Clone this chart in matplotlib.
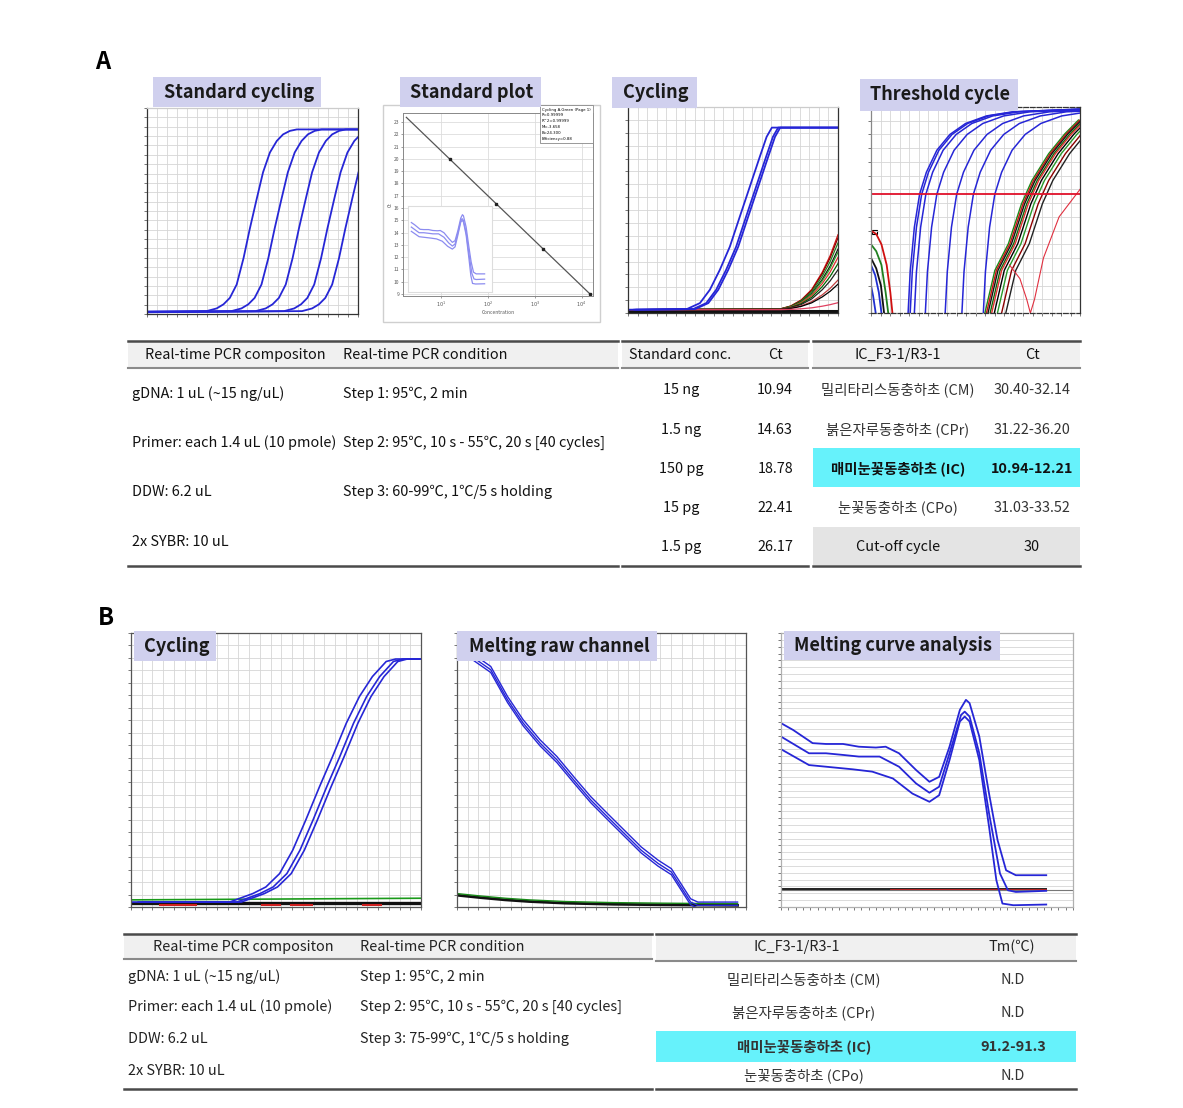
import numpy as np
import matplotlib.pyplot as plt
from matplotlib.patches import Rectangle

plt.rcParams['font.family'] = ['Noto Sans CJK KR', 'DejaVu Sans']

W, H = 1183, 1108

# ---------------- values ----------------
# standard cycling: shape of one curve (cycle offset from its midpoint, normalised fluorescence)
amp_dx = [-40, -9.0, -7.1, -5.8, -4.6, -3.3, -2.0, -0.8, 0.5, 1.7, 3.0, 4.3, 5.5, 6.8, 8.1, 40]
amp_lvl = [0.8, 1.4, 2.7, 4.7, 7.8, 14.3, 27.1, 41.5, 55.9, 68.8, 78.4, 84.0, 87.2, 88.9, 89.6, 89.6]
std_mid = [20.3, 25.0, 29.6, 35.0, 38.4]      # 5 dilutions

# cycling (A), IC samples
cycA_x = [0, 11.2, 13.7, 15.6, 17.5, 19.4, 21.3, 23.2, 25.1, 26.4, 27.4, 40]
cycA_y = [1.6, 1.9, 4.8, 11.3, 21.0, 32.2, 46.8, 61.3, 75.8, 85.5, 90.0, 90.0]
cycA_shift = [0.0, 1.2, 1.6]

# late (non-target) curves in the A cycling panel
late_cycles = [0, 29.0, 31.0, 33.0, 35.0, 37.0, 38.5, 40.0]
late_frac = [0.0, 0.01, 0.05, 0.13, 0.27, 0.50, 0.72, 1.0]
late_end = [38.0, 36.5, 34.0, 31.0, 29.5, 27.0, 24.0, 21.0, 16.0, 14.0, 5.0]
late_colors = ['#d01010', '#8b0000', '#208020', '#111111', '#30a030', '#e03030',
               '#006400', '#222222', '#c04040', '#000000', '#e04060']

# standard plot (Ct vs concentration)
std_conc = [15, 150, 1500, 15000]
std_ct_pts = [20.0, 16.3, 12.7, 9.0]
fit_M, fit_B = -3.658, 24.3
fit_legend = ['Cycling A.Green (Page 1)', 'R=0.99999', 'R^2=0.99999',
              'M=-3.658', 'B=24.300', 'Efficiency=0.88']

# threshold cycle panel (log10 fluorescence)
thr_dx = [0.0, 0.4, 1.2, 2.2, 3.5, 5.5, 8.0, 11.0, 15.0, 20.0, 33.0]
thr_ly = [-3.0, -2.4, -1.75, -1.27, -0.95, -0.63, -0.40, -0.24, -0.13, -0.07, -0.03]
thr_blue_start = [7.1, 7.5, 8.3, 10.4, 14.2, 17.4, 21.5]
thr_col_dx = [0.0, 1.9, 4.5, 7.0, 9.0, 12.2, 15.3, 17.9]
thr_col_ly = [-3.0, -2.38, -1.99, -1.41, -1.07, -0.68, -0.39, -0.19]
thr_col_start = [21.8, 22.1, 22.4, 22.8, 23.1, 23.6, 24.2, 25.0, 25.8]
thr_col_colors = ['#1a8a1a', '#d01010', '#111111', '#0b6b0b', '#e03030',
                  '#000000', '#2a9a2a', '#8b0000', '#222222']
thr_v_x = [26.5, 28.5, 29.8, 30.5, 31.3, 33.0, 36.0, 40.0]
thr_v_ly = [-2.3, -2.5, -2.8, -3.0, -2.8, -2.2, -1.6, -1.2]
thr_noise = [('#d01010', [0, 1, 2, 3, 3.7, 4.1], [-1.8, -1.85, -2.0, -2.3, -2.7, -3.0]),
             ('#208020', [0, 1, 2, 2.8, 3.3], [-2.0, -2.1, -2.3, -2.7, -3.0]),
             ('#111111', [0, 1, 1.9, 2.5], [-2.2, -2.35, -2.6, -3.0]),
             ('#2030d0', [0, 0.8, 1.5, 2.0], [-2.3, -2.45, -2.7, -3.0]),
             ('#2030d0', [0, 0.4, 0.9], [-2.6, -2.75, -3.0])]
thr_level = -1.27

# B cycling
bcyc_x = [0, 13.6, 16.8, 18.6, 20.5, 22.3, 24.1, 26.0, 27.8, 29.7, 31.5, 33.3, 35.2, 36.5, 40]
bcyc_y = [1.8, 1.8, 4.9, 7.3, 12.2, 20.7, 31.7, 43.9, 54.9, 67.1, 76.8, 84.1, 89.6, 90.5, 90.5]
bcyc_shift = [0.0, 1.0, 1.6]

# B melting raw channel
raw_T = [75.0, 76.4, 77.8, 79.2, 80.5, 81.9, 83.3, 84.7, 86.1, 87.5, 88.9, 90.3,
         91.7, 92.8, 93.6, 94.4, 95.0, 98.3]
raw_F = [97.0, 90.9, 86.6, 75.6, 67.1, 59.8, 53.7, 46.3, 39.1, 32.9, 26.8, 20.7,
         15.9, 12.8, 7.3, 1.8, 0.6, 0.6]
raw_shift = [0.0, 1.2, -1.0]
raw_bg_T = [75, 77, 79, 81, 84, 88, 92, 98.3]
raw_bg_F = [4.3, 3.4, 2.6, 2.0, 1.4, 1.0, 0.8, 0.6]

# B melting curve (dF/dT)
melt1_T = [76.0, 77.0, 78.6, 79.7, 81.1, 82.4, 83.8, 84.6, 85.7, 87.1, 88.2, 89.0,
           89.85, 90.7, 91.2, 91.5, 92.3, 93.1, 93.8, 94.5, 95.3, 97.8]
melt1_F = [67.1, 64.6, 59.8, 59.5, 59.5, 58.5, 58.2, 58.5, 56.1, 50.0, 45.7, 47.5,
           58.5, 71.9, 75.6, 74.4, 62.2, 41.4, 24.4, 13.4, 11.6, 11.6]
melt2_T = [76.0, 78.3, 79.7, 81.1, 82.4, 84.1, 85.7, 87.1, 88.2, 89.0, 89.85, 90.8,
           91.1, 91.5, 92.3, 93.1, 94.0, 94.65, 95.3, 97.8]
melt2_F = [62.2, 56.1, 56.1, 55.5, 54.9, 54.9, 51.2, 45.1, 41.7, 43.9, 56.1, 70.1,
           71.3, 69.5, 56.1, 34.2, 12.2, 6.1, 5.5, 5.9]
melt3_T = [76.0, 78.3, 79.7, 81.9, 83.5, 85.2, 86.8, 88.2, 89.0, 89.85, 90.7, 91.1,
           91.5, 92.3, 93.1, 93.7, 94.2, 95.1, 97.8]
melt3_F = [57.6, 51.8, 51.2, 50.25, 49.4, 46.9, 41.4, 38.4, 40.8, 53.6, 67.7, 69.5,
           67.7, 53.6, 29.3, 9.8, 1.26, 0.65, 0.9]
melt_neg_level = 6.6

# tables
compA = ['gDNA: 1 uL (~15 ng/uL)', 'Primer: each 1.4 uL (10 pmole)', 'DDW: 6.2 uL', '2x SYBR: 10 uL']
condA = ['Step 1: 95\u2103, 2 min', 'Step 2: 95\u2103, 10 s - 55\u2103, 20 s [40 cycles]',
         'Step 3: 60-99\u2103, 1\u2103/5 s holding']
condB = ['Step 1: 95\u2103, 2 min', 'Step 2: 95\u2103, 10 s - 55\u2103, 20 s [40 cycles]',
         'Step 3: 75-99\u2103, 1\u2103/5 s holding']
std_labels = ['15 ng', '1.5 ng', '150 pg', '15 pg', '1.5 pg']
std_ct = ['10.94', '14.63', '18.78', '22.41', '26.17']
species = ['밀리타리스동충하초 (CM)', '붉은자루동충하초 (CPr)', '매미눈꽃동충하초 (IC)', '눈꽃동충하초 (CPo)']
species_ct = ['30.40-32.14', '31.22-36.20', '10.94-12.21', '31.03-33.52']
cutoff = '30'
species_tm = ['N.D', 'N.D', '91.2-91.3', 'N.D']

BLUE = '#2626d6'
TITLE_BG = '#d0d0ee'
CYAN = '#66f2fb'

fig = plt.figure(figsize=(W / 100, H / 100), dpi=100)


def px_axes(x0, y0, x1, y1):
    return fig.add_axes([x0 / W, 1 - y1 / H, (x1 - x0) / W, (y1 - y0) / H])


def frame(ax, xlim, ylim, nx, ny, edge='#333333', grid='both'):
    ax.set_xlim(*xlim)
    ax.set_ylim(*ylim)
    ax.set_xticks(np.linspace(xlim[0], xlim[1], nx + 1))
    ax.set_yticks(np.linspace(ylim[0], ylim[1], ny + 1))
    ax.grid(True, axis=grid, color='#d6d6d6', lw=0.6)
    ax.tick_params(length=2, width=0.5, colors='#444444', labelbottom=False, labelleft=False)
    for s in ax.spines.values():
        s.set_color(edge)
        s.set_linewidth(0.9)


base = px_axes(0, 0, W, H)
base.set_xlim(0, W)
base.set_ylim(H, 0)
base.axis('off')

# ---------------- A: standard cycling ----------------
ax = px_axes(147, 108, 358, 314)
frame(ax, (0, 40), (0, 100), 21, 22)
ax.spines['top'].set_color('#cccccc')
for m in std_mid:
    ax.plot(np.array(amp_dx) + m, amp_lvl, color=BLUE, lw=1.3)

# ---------------- A: standard plot ----------------
base.add_patch(Rectangle((383, 105), 217, 217, fc='white', ec='#cfcfcf', lw=1))
ax = px_axes(403, 113, 593, 296)
ax.set_xscale('log')
ax.set_xlim(10 ** 0.178, 10 ** 4.246)
ax.set_ylim(8.84, 23.74)
ax.set_yticks(range(9, 24))
ax.set_xticks([10, 100, 1000, 10000])
ax.set_xticklabels(['$10^1$', '$10^2$', '$10^3$', '$10^4$'])
ax.minorticks_off()
ax.grid(True, color='#dddddd', lw=0.6)
ax.tick_params(labelsize=3.5, length=1.5, width=0.4, colors='#555555', pad=1)
for s in ax.spines.values():
    s.set_color('#888888')
    s.set_linewidth(0.7)
ax.set_xlabel('Concentration', fontsize=3.5, labelpad=1, color='#555555')
ax.set_ylabel('Ct', fontsize=3.5, labelpad=1, color='#555555')
xf = np.array([10 ** 0.25, max(std_conc)])
ax.plot(xf, fit_B + fit_M * np.log10(xf), color='#555555', lw=0.9)
ax.plot(std_conc, std_ct_pts, 's', color='#222222', ms=2)
ax.text(0.73, 1.03, '\n'.join(fit_legend), transform=ax.transAxes, fontsize=2.8, va='top',
        linespacing=1.6, family='DejaVu Sans',
        bbox=dict(fc='white', ec='#888888', lw=0.6, pad=1.5))
ins = px_axes(408, 206, 492, 292)
ins.set_xlim(75, 100)
ins.set_ylim(-8, 85)
ins.set_xticks([])
ins.set_yticks([])
for s in ins.spines.values():
    s.set_color('#dddddd')
for t, f in [(melt1_T, melt1_F), (melt2_T, melt2_F), (melt3_T, melt3_F)]:
    ins.plot(t, f, color='#8c8cf0', lw=0.9)

# ---------------- A: cycling ----------------
ax = px_axes(628, 107, 838, 313)
frame(ax, (0, 40), (0, 100), 22, 16)
ax.spines['top'].set_color('#cccccc')
ax.plot([0, 40], [1.2, 1.2], color='#111111', lw=2.2)
for e, c in zip(late_end, late_colors):
    ax.plot(late_cycles, 1.6 + np.array(late_frac) * (e - 1.6), color=c, lw=0.9)
for sh in cycA_shift:
    ax.plot(np.array(cycA_x) + sh, cycA_y, color=BLUE, lw=1.3)

# ---------------- A: threshold cycle ----------------
ax = px_axes(871, 107, 1080, 313)
frame(ax, (0, 40), (-3, 0), 22, 15)
ax.spines['top'].set_linestyle('--')
ax.spines['bottom'].set_linestyle('--')
ax.spines['left'].set_color('#888888')
for col, xs, ys in thr_noise:
    ax.plot(xs, ys, color=col, lw=1.3)
for s0 in thr_blue_start:
    ax.plot(np.array(thr_dx) + s0, thr_ly, color=BLUE, lw=1.1)
for s0, c in zip(thr_col_start, thr_col_colors):
    ax.plot(np.array(thr_col_dx) + s0, thr_col_ly, color=c, lw=1.0)
ax.plot(thr_v_x, thr_v_ly, color='#e03040', lw=0.8)
ax.axhline(thr_level, color='#e0102a', lw=1.3)
ax.add_patch(Rectangle((0.003, 0.385), 0.028, 0.018, transform=ax.transAxes,
                       fc='white', ec='black', lw=0.8, clip_on=False))

# ---------------- B: cycling ----------------
ax = px_axes(131, 633, 421, 907)
frame(ax, (0, 40), (0, 100), 27, 22, edge='#555555')
ax.plot([0, 40], [2.6, 3.2], color='#1a9a1a', lw=1.2)
ax.plot([0, 40], [1.6, 1.6], color='#111111', lw=2.4)
for a, b in [(4, 9), (18, 20.5), (22, 25), (32, 34.5)]:
    ax.plot([a, b], [0.6, 0.6], color='#d02020', lw=1.5)
for sh in bcyc_shift:
    ax.plot(np.array(bcyc_x) + sh, bcyc_y, color=BLUE, lw=1.2)

# ---------------- B: melting raw channel ----------------
ax = px_axes(457, 633, 746, 907)
frame(ax, (75, 99), (0, 100), 27, 22, edge='#555555')
ax.plot(raw_bg_T, raw_bg_F, color='#111111', lw=2.0)
ax.plot(raw_bg_T, np.array(raw_bg_F) + 0.6, color='#1a8a1a', lw=1.0)
for sh in raw_shift:
    ax.plot(raw_T, np.array(raw_F) + sh, color=BLUE, lw=1.0)

# ---------------- B: melting curve analysis ----------------
ax = px_axes(781, 633, 1073, 907)
frame(ax, (76, 100), (0, 100), 40, 40, edge='#b0b0b0', grid='y')
ax.axhline(6.2, color='#777777', lw=0.8)
ax.plot([76, 97.8], [melt_neg_level, melt_neg_level], color='#222222', lw=1.4)
ax.plot([85, 97.8], [melt_neg_level - 0.2, melt_neg_level - 0.2], color='#d02020', lw=0.6)
for t, f in [(melt1_T, melt1_F), (melt2_T, melt2_F), (melt3_T, melt3_F)]:
    ax.plot(t, f, color=BLUE, lw=1.3)

# ---------------- tables ----------------
FA = 10.4
FB = 10.4
TXT = dict(fontsize=FA, va='center', color='#111111')


def table_block(x0, x1, y_top, y_head, y_bot):
    base.add_patch(Rectangle((x0, y_top), x1 - x0, y_head - y_top, fc='#f0f0f0', ec='none'))
    base.plot([x0, x1], [y_top, y_top], color='#4a4a4a', lw=1.8)
    base.plot([x0, x1], [y_head, y_head], color='#8a8a8a', lw=1.5)
    base.plot([x0, x1], [y_bot, y_bot], color='#4a4a4a', lw=1.8)


# A tables
base.add_patch(Rectangle((813, 448), 267, 39, fc=CYAN, ec='none'))
base.add_patch(Rectangle((813, 527), 267, 38, fc='#e4e4e4', ec='none'))
for x0, x1 in [(128, 618), (622, 808), (813, 1080)]:
    table_block(x0, x1, 341, 368, 566)
base.text(145, 355, 'Real-time PCR compositon', **TXT)
base.text(343, 355, 'Real-time PCR condition', **TXT)
for y, s in zip([394, 443, 492, 542], compA):
    base.text(132, y, s, **TXT)
for y, s in zip([394, 443, 492], condA):
    base.text(343, y, s, **TXT)
base.text(680, 355, 'Standard conc.', ha='center', **TXT)
base.text(775, 355, 'Ct', ha='center', **TXT)
rowsA = [390, 430, 469, 508, 547]
for y, a, b in zip(rowsA, std_labels, std_ct):
    base.text(681, y, a, ha='center', **TXT)
    base.text(793, y, b, ha='right', **TXT)
base.text(898, 355, 'IC_F3-1/R3-1', ha='center', **TXT)
base.text(1032, 355, 'Ct', ha='center', **TXT)
for i, (y, a, b) in enumerate(zip(rowsA[:4], species, species_ct)):
    w = 'bold' if i == 2 else 'normal'
    col = '#111111' if i == 2 else '#333333'
    base.text(898, y, a, ha='center', fontsize=FA, va='center', weight=w, color=col)
    base.text(1032, y, b, ha='center', fontsize=FA, va='center', weight=w, color=col)
base.text(898, 547, 'Cut-off cycle', ha='center', **TXT)
base.text(1032, 547, cutoff, ha='center', **TXT)

# B tables
TXB = dict(fontsize=FB, va='center', color='#222222')
base.add_patch(Rectangle((656, 1031), 420, 31, fc=CYAN, ec='none'))
table_block(124, 652, 934, 959, 1089)
table_block(656, 1076, 934, 961, 1089)
base.text(153, 947, 'Real-time PCR compositon', **TXB)
base.text(360, 947, 'Real-time PCR condition', **TXB)
for y, s in zip([977, 1007, 1039, 1071], compA):
    base.text(128, y, s, **TXB)
for y, s in zip([977, 1007, 1039], condB):
    base.text(360, y, s, **TXB)
base.text(797, 947, 'IC_F3-1/R3-1', ha='center', **TXB)
base.text(1012, 947, 'Tm(\u2103)', ha='center', **TXB)
for i, (y, a, b) in enumerate(zip([980, 1013, 1047, 1076], species, species_tm)):
    w = 'bold' if i == 2 else 'normal'
    base.text(804, y, a, ha='center', fontsize=FB, va='center', weight=w, color='#333333')
    base.text(1013, y, b, ha='center', fontsize=FB, va='center', weight=w, color='#333333')

# ---------------- titles and panel letters (drawn on top) ----------------
top = px_axes(0, 0, W, H)
top.set_xlim(0, W)
top.set_ylim(H, 0)
top.axis('off')
top.patch.set_alpha(0)
titles = [((153, 77, 321, 107), 164, 'Standard cycling'),
          ((400, 77, 541, 107), 410, 'Standard plot'),
          ((612, 77, 697, 108), 623, 'Cycling'),
          ((860, 79, 1018, 111), 870, 'Threshold cycle'),
          ((134, 631, 216, 661), 144, 'Cycling'),
          ((457, 631, 657, 661), 469, 'Melting raw channel'),
          ((784, 631, 1000, 660), 794, 'Melting curve analysis')]
for (x0, y0, x1, y1), tx, s in titles:
    top.add_patch(Rectangle((x0, y0), x1 - x0, y1 - y0, fc=TITLE_BG, ec='none'))
    top.text(tx, (y0 + y1) / 2, s, fontsize=13, weight='bold', va='center', color='#1a1a1a')
top.text(95, 62, 'A', fontsize=17, weight='bold', va='center')
top.text(98, 618, 'B', fontsize=17, weight='bold', va='center')

fig.savefig('out.png', dpi=100, facecolor='white')
